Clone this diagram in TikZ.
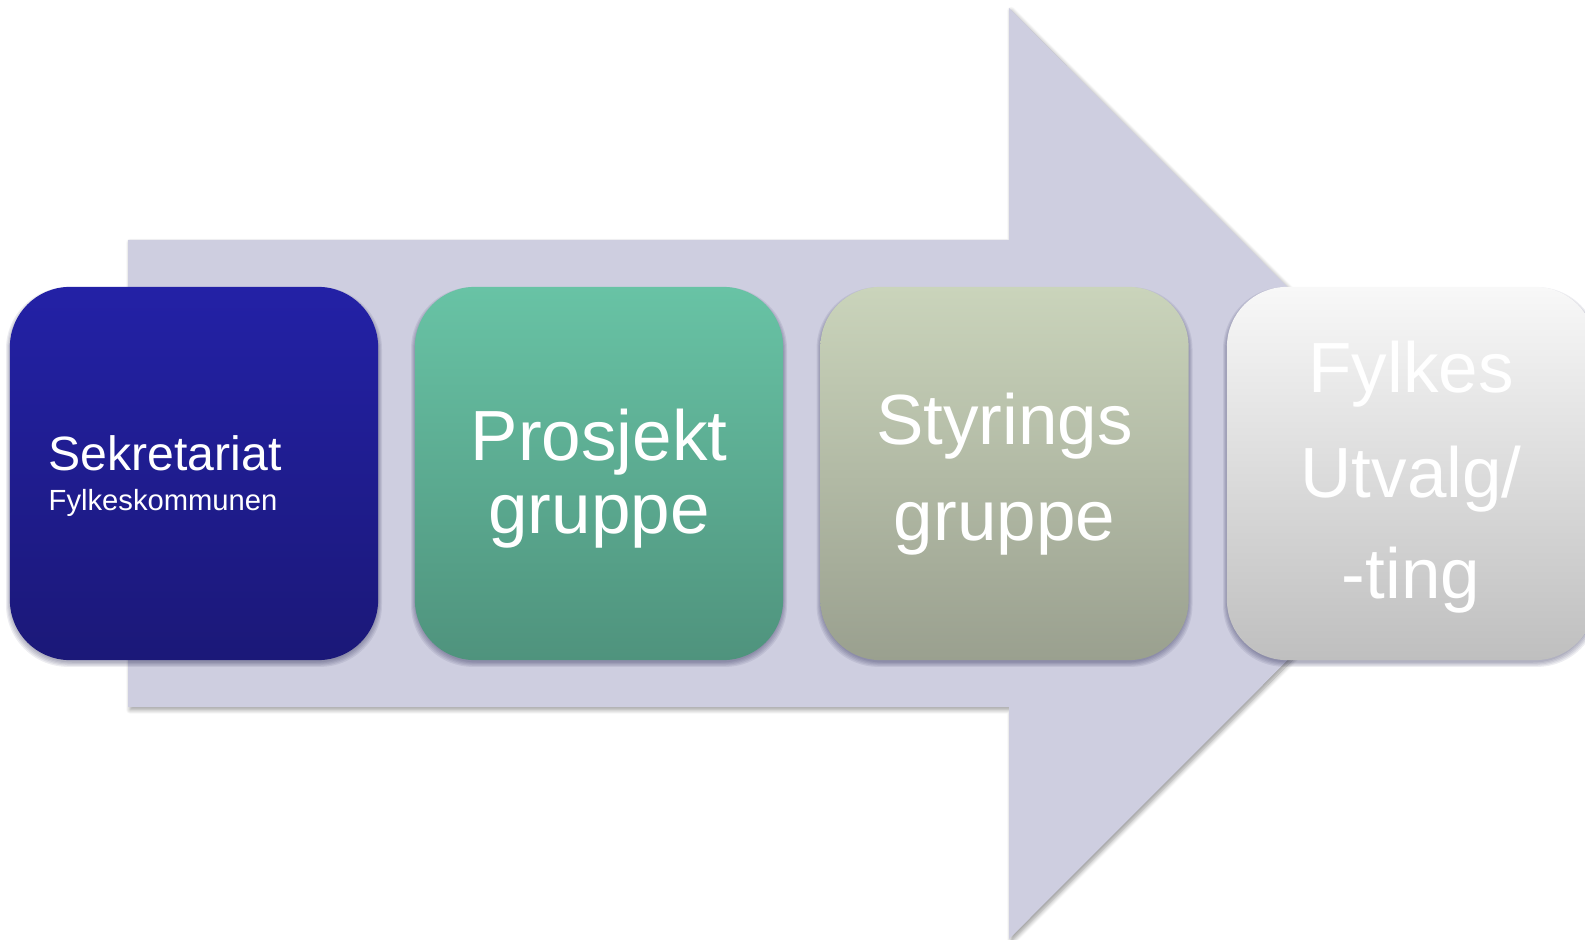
\documentclass[tikz,border=0pt]{standalone}
\usepackage{fontspec}
\setmainfont{Liberation Sans}
\usetikzlibrary{shadows.blur}
\definecolor{arrowc}{HTML}{CECEE0}
\definecolor{oneT}{HTML}{2321A6}
\definecolor{oneB}{HTML}{1B1878}
\definecolor{twoT}{HTML}{68C3A5}
\definecolor{twoB}{HTML}{4F937D}
\definecolor{threeT}{HTML}{CAD4BB}
\definecolor{threeB}{HTML}{9AA08F}
\definecolor{fourT}{HTML}{F8F8F8}
\definecolor{fourB}{HTML}{BFBFBF}
\tikzset{
  stagebox/.style={rectangle, rounded corners=0.6cm, minimum width=3.68cm,
    minimum height=3.73cm, inner sep=0pt},
  shadowlayer/.style={fill=black!80!blue, fill opacity=0.07, rounded corners=0.62cm},
  bigtxt/.style={text=white, inner sep=0pt, font=\fontsize{20.2}{24}\selectfont},
  midtxt/.style={text=white, inner sep=0pt, font=\fontsize{13.7}{16}\selectfont},
  smalltxt/.style={text=white, inner sep=0pt, font=\fontsize{8.3}{10}\selectfont}
}
\begin{document}
\begin{tikzpicture}[x=0.01cm, y=-0.01cm]
\useasboundingbox (0,0) rectangle (1585,940);
% big arrow
\fill[arrowc, blur shadow={shadow xshift=0.6pt, shadow yshift=-0.8pt, shadow blur radius=1.2pt,
      shadow blur steps=10, shadow opacity=40}]
  (128,240) -- (1009,240) -- (1009,8) -- (1474,473.5) -- (1009,939) -- (1009,707) -- (128,707) -- cycle;
% box shadows
\foreach \cx in {194,599,1004.5,1411}{
  \foreach \k in {0,1,2,3,4}{
    \path[shadowlayer] ({\cx-184-\k},{287+2.5-\k*0.6}) rectangle ({\cx+184+\k},{660+2.5+\k*1.1});
  }
}
% boxes
\node[stagebox, top color=oneT, bottom color=oneB] (b1) at (194,473.5) {};
\node[stagebox, top color=twoT, bottom color=twoB] (b2) at (599,473.5) {};
\node[stagebox, top color=threeT, bottom color=threeB] (b3) at (1004.5,473.5) {};
\node[stagebox, top color=fourT, bottom color=fourB] (b4) at (1411,473.5) {};
% texts
\node[midtxt, anchor=base west] (t1a) at (48,471) {Sekretariat};
\node[smalltxt, anchor=base west] (t1b) at (48,511) {Fylkeskommunen};
\node[bigtxt, anchor=base] (t2a) at (599,460) {Prosjekt};
\node[bigtxt, anchor=base] (t2b) at (599,534) {gruppe};
\node[bigtxt, anchor=base] (t3a) at (1004.5,445) {Styrings};
\node[bigtxt, anchor=base] (t3b) at (1004.5,541) {gruppe};
\node[bigtxt, anchor=base] (t4a) at (1411,393) {Fylkes};
\node[bigtxt, anchor=base] (t4b) at (1411,497) {Utvalg/};
\node[bigtxt, anchor=base] (t4c) at (1411,598) {-ting};
\end{tikzpicture}
\end{document}
